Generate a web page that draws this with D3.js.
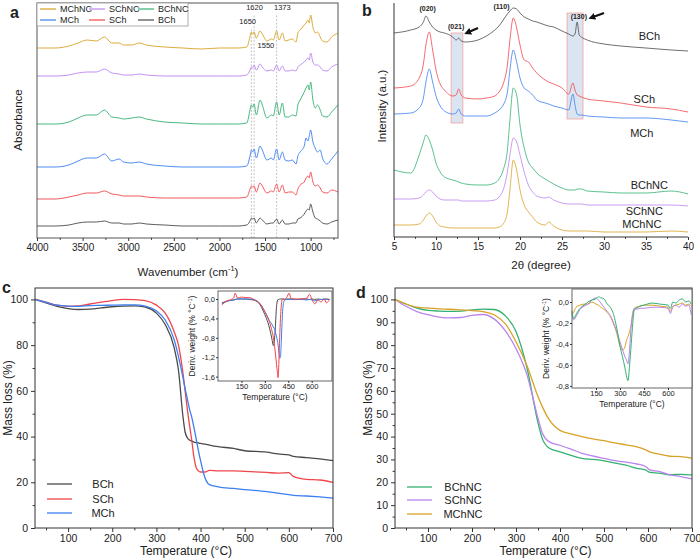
<!DOCTYPE html>
<html>
<head>
<meta charset="utf-8">
<script src="https://cdn.jsdelivr.net/npm/d3@7/dist/d3.min.js"></script>
<style>
  body { margin: 0; background: #fff; }
  svg text { font-family: "Liberation Sans", Arial, sans-serif; fill: #222; }
</style>
</head>
<body>
<svg id="fig" width="700" height="560"></svg>
<script>
// ---------- panel a: FTIR (stacked, arbitrary offsets) ----------
const ftirWave = [4000, 3800, 3650, 3550, 3450, 3350, 3260, 3180, 3100, 3050, 2960, 2880, 2800, 2600, 2400, 2200, 2000, 1800, 1700, 1660,
  1650, 1635, 1620, 1595, 1555, 1530, 1480, 1430, 1410, 1373, 1345, 1310, 1280, 1240, 1200, 1160, 1140, 1115, 1070, 1050,
  1030, 1015, 1000, 975, 950, 925, 895, 870, 820, 770, 700];
const ftirMChNC = [190, 190, 192, 195, 198, 197, 201, 195, 195, 193, 193, 195, 193, 191, 190, 189, 190, 190, 191, 203,
  206, 204, 206, 200, 207, 204, 197, 199, 198, 207, 198, 205, 197, 198, 199, 196, 205, 208, 213, 215,
  218, 215, 223, 211, 205, 206, 201, 197, 196, 201, 205];
const ftirSChNC = [162, 162, 163, 165, 166, 166, 169, 165, 164, 163, 163, 164, 163, 162, 162, 162, 162, 162, 163, 169,
  171, 170, 173, 168, 174, 171, 167, 168, 167, 173, 167, 172, 167, 167, 168, 167, 171, 173, 176, 178,
  180, 178, 185, 176, 173, 173, 171, 168, 167, 171, 174];
const ftirBChNC = [114, 114, 116, 120, 123, 123, 128, 121, 120, 119, 120, 121, 119, 116, 115, 114, 114, 114, 115, 130,
  133, 131, 134, 123, 138, 133, 120, 123, 122, 136, 123, 135, 121, 121, 123, 122, 133, 138, 146, 150,
  153, 148, 156, 138, 130, 133, 128, 122, 121, 126, 133];
const ftirMCh = [71, 71, 73, 77, 80, 80, 84, 77, 79, 76, 75, 76, 74, 72, 71, 71, 71, 71, 72, 84,
  88, 86, 89, 80, 92, 88, 78, 80, 78, 89, 78, 86, 78, 77, 78, 74, 82, 86, 92, 100,
  97, 102, 108, 96, 90, 86, 88, 80, 74, 79, 87];
const ftirSCh = [39, 39, 41, 43, 45, 45, 47, 44, 43, 42, 42, 42, 41, 40, 40, 40, 40, 40, 41, 50,
  52, 51, 52, 46, 55, 52, 45, 47, 46, 54, 46, 53, 45, 46, 46, 43, 49, 53, 56, 60,
  62, 60, 66, 56, 52, 53, 50, 46, 45, 48, 46];
const ftirBCh = [12, 12, 13, 15, 16, 16, 17, 15, 15, 14, 14, 15, 14, 13, 12, 12, 12, 12, 13, 18,
  20, 19, 20, 15, 20, 18, 14, 15, 15, 19, 14, 18, 14, 14, 15, 15, 19, 20, 24, 27,
  29, 28, 34, 26, 20, 19, 17, 15, 14, 16, 18];
const ftirMarks = [1650, 1620, 1373];
const ftirMarkLabels = [["1650", 1690, 24], ["1620", 1615, 10], ["1373", 1310, 10], ["1550", 1490, 48]];
const waveTicks = [4000, 3500, 3000, 2500, 2000, 1500, 1000];

// ---------- panel b: XRD (stacked) ----------
const xrdTheta = [5, 7, 8, 8.5, 8.8, 9.2, 9.6, 10, 10.5, 11, 12, 12.4, 12.7, 13, 13.5, 15, 16, 17, 17.5, 18,
  18.5, 18.8, 19.2, 19.6, 20, 20.5, 21, 21.5, 22, 23, 23.4, 24, 25, 25.8, 26.3, 26.55, 26.8, 27.05, 27.3, 28,
  30, 32, 35, 38, 40];
const xrdBCh = [204, 207, 210, 215, 221, 215, 210, 207, 205, 204, 200, 197, 199, 196, 195, 197, 201, 207, 211, 217,
  223, 226, 229, 228, 224, 220, 218, 216, 215, 212, 211, 210, 206, 203, 201, 203, 215, 202, 200, 197,
  193, 191, 189, 187, 186];
const xrdSCh = [149, 151, 159, 173, 192, 205, 187, 167, 153, 147, 141, 142, 148, 142, 139, 138, 139, 141, 145, 153,
  172, 197, 219, 209, 192, 177, 175, 169, 164, 157, 155, 153, 149, 143, 154, 147, 142, 141, 140, 138,
  136, 134, 130, 128, 125];
const xrdMCh = [123, 124, 129, 139, 155, 168, 155, 141, 131, 126, 123, 124, 128, 123, 121, 121, 121, 124, 127, 132,
  145, 167, 187, 175, 159, 149, 146, 142, 137, 134, 133, 131, 129, 127, 143, 132, 123, 122, 122, 121,
  120, 119, 119, 117, 115];
const xrdBChNC = [67, 64, 82, 95, 102, 97, 87, 74, 65, 60, 57, 56, 55, 54, 53, 52, 52, 54, 58, 67,
  87, 117, 149, 142, 112, 89, 75, 69, 64, 58, 56, 53, 49, 47, 47, 47, 48, 48, 48, 46,
  45, 44, 44, 46, 43];
const xrdSChNC = [38, 38, 39, 42, 45, 47, 45, 41, 38, 37, 37, 37, 37, 36, 36, 36, 36, 37, 40, 47,
  65, 82, 99, 95, 82, 65, 52, 45, 41, 39, 40, 37, 34, 33, 33, 33, 33, 33, 33, 32,
  32, 32, 32, 32, 31];
const xrdMChNC = [12, 12, 13, 17, 21, 24, 21, 15, 11, 10, 9, 9, 9, 9, 9, 9, 9, 9, 10, 13,
  25, 47, 77, 67, 47, 32, 25, 20, 15, 12, 15, 11, 7, 6, 6, 6, 6, 6, 6, 6,
  5, 5, 5, 6, 5];
const xrdBands = [[11.8, 13.2, 114, 204], [25.6, 27.5, 118, 224]];
const xrdPeakLabels = [["(020)", 9.0, 226], ["(021)", 12.4, 208], ["(110)", 17.8, 228], ["(130)", 27.0, 218.5]];
const xrdNames = [["BCh", 35.4, 197], ["SCh", 34.8, 134], ["MCh", 34.5, 100], ["BChNC", 35.4, 48], ["SChNC", 34.8, 22], ["MChNC", 34.5, 9]];
const thetaTicks = [5, 10, 15, 20, 25, 30, 35, 40];

// ---------- panel c: TGA of chitins ----------
const tgaTempC = [25, 50, 75, 100, 125, 150, 175, 200, 225, 250, 275, 300, 320, 340, 350, 360, 365, 370, 375, 380,
  385, 390, 395, 400, 410, 420, 440, 475, 500, 550, 575, 600, 610, 640, 670, 700];
const tgaBCh = [100, 98.5, 97, 96, 95.6, 95.8, 96.3, 96.8, 97.1, 97.2, 96.6, 94, 89, 79, 69, 49, 42, 39.5, 38.5, 38,
  37.6, 37.4, 37.2, 37, 36.7, 36.3, 35.6, 34.8, 33.8, 33.2, 32.4, 32, 31.3, 30.8, 30.2, 29.5];
const tgaSCh = [100, 98.8, 97.5, 97, 97.2, 98, 98.8, 99.5, 100, 99.9, 99.5, 97.5, 94, 86, 80, 68, 60, 52, 45, 38.5,
  31, 26.5, 25, 24.5, 24.5, 25.2, 25, 25, 24.8, 24.3, 24, 24.2, 22.6, 21.3, 21, 20];
const tgaMCh = [100, 98.7, 97.5, 97.1, 97, 97.3, 97.4, 97.5, 97.6, 97.6, 97.1, 95, 91, 82.5, 75, 66, 61, 56.5, 52, 48.5,
  44, 39, 34, 29.5, 22, 19, 18, 17.3, 16.8, 15.9, 15.3, 14.6, 14.3, 14, 13.6, 13.1];
const dtgTempC = [25, 50, 75, 100, 110, 125, 150, 175, 200, 225, 250, 270, 290, 310, 330, 345, 355, 365, 375, 380,
  385, 390, 395, 400, 405, 410, 415, 425, 440, 455, 470, 500, 540, 570, 585, 603, 620, 640, 660, 680, 695, 715];
const dtgBCh = [-0.08, -0.05, -0.03, -0.02, -0.01, 0, 0, 0, -0.01, -0.02, -0.05, -0.12, -0.25, -0.4, -0.6, -0.82, -0.96, -0.7, -0.15, -0.04,
  -0.01, -0.01, 0, 0, 0, 0, 0, -0.01, 0, 0, 0, -0.01, 0, 0, -0.01, 0, -0.01, 0, -0.01, 0, 0, -0.01];
const dtgSCh = [-0.12, -0.05, -0.02, 0.02, 0.12, 0.02, 0.04, 0.03, 0.03, 0, -0.05, -0.1, -0.2, -0.32, -0.48, -0.65, -0.8, -1.05, -1.35, -1.5,
  -1.62, -1.3, -0.8, -0.4, -0.15, -0.02, 0, 0, 0.03, 0.12, 0, 0, 0, 0.02, 0.1, -0.02, -0.1, -0.02, -0.06, 0, -0.08, 0];
const dtgMCh = [-0.1, -0.06, -0.03, -0.02, -0.01, 0, 0, 0, 0, -0.01, -0.04, -0.1, -0.2, -0.32, -0.45, -0.52, -0.58, -0.65, -0.78, -0.85,
  -0.95, -1.1, -1.22, -1.2, -0.9, -0.5, -0.2, -0.03, -0.01, -0.01, -0.01, -0.01, -0.01, -0.02, -0.01, -0.02, -0.04, -0.02, -0.01, -0.01, -0.01, -0.01];

// ---------- panel d: TGA of nanocrystals ----------
const tgaTempD = [25, 50, 75, 100, 125, 150, 175, 200, 225, 250, 275, 300, 325, 350, 360, 375, 400, 425, 450, 475,
  500, 525, 550, 575, 595, 605, 625, 650, 675, 700];
const tgaBChNC = [100, 98, 96.2, 95.2, 94.9, 94.8, 94.9, 95.4, 95.8, 95.6, 93, 86, 70, 46, 39, 35, 33.3, 31.8, 30.5, 30,
  29.4, 28.4, 27.5, 26.1, 25.3, 24.3, 24, 23.3, 23.5, 23.2];
const tgaSChNC = [100, 97, 94.7, 93.3, 92.3, 91.9, 92.1, 93, 93.4, 91.5, 86.5, 78.5, 67, 48, 41.5, 37.8, 36.2, 34.5, 32.7, 31.5,
  30.5, 29.5, 28.8, 28, 26.8, 25.3, 24.8, 23.2, 22.5, 21.5];
const tgaMChNC = [100, 98, 96.6, 96.2, 95.9, 95.7, 95.4, 95.1, 94.7, 93.3, 89.5, 81.5, 71, 57.5, 53, 47.5, 42.7, 41.2, 40, 39,
  38.2, 37.2, 36.4, 35.5, 34.2, 33.2, 32.3, 31.4, 31.2, 30.6];
const dtgTempD = [0, 10, 25, 50, 75, 100, 125, 150, 165, 180, 200, 220, 240, 260, 280, 300, 315, 330, 340, 350,
  360, 370, 380, 390, 400, 425, 450, 500, 550, 600, 615, 630, 650, 670, 690, 710, 730, 745];
const dtgBChNC = [-0.08, -0.16, -0.12, -0.06, -0.03, 0, 0.02, 0.03, 0.05, 0.04, 0.03, -0.02, -0.05, -0.12, -0.25, -0.42, -0.52, -0.62, -0.7, -0.75,
  -0.6, -0.4, -0.2, -0.07, -0.06, -0.04, -0.03, -0.01, -0.02, -0.03, -0.06, 0, -0.01, 0.02, 0.03, 0, 0.01, -0.02];
const dtgSChNC = [-0.1, -0.17, -0.14, -0.07, -0.04, -0.02, 0.02, 0.04, 0.02, -0.01, -0.05, -0.09, -0.13, -0.2, -0.28, -0.38, -0.45, -0.52, -0.55, -0.59,
  -0.45, -0.22, -0.1, -0.06, -0.07, -0.06, -0.06, -0.05, -0.05, -0.06, -0.11, -0.05, -0.03, -0.05, -0.02, -0.04, -0.03, -0.12];
const dtgMChNC = [-0.12, -0.1, -0.05, -0.03, -0.02, -0.02, 0, -0.02, -0.03, -0.05, -0.07, -0.1, -0.14, -0.21, -0.3, -0.42, -0.46, -0.43, -0.37, -0.33,
  -0.28, -0.22, -0.12, -0.06, -0.05, -0.04, -0.03, -0.03, -0.04, -0.05, -0.09, -0.04, -0.03, -0.02, -0.01, -0.03, -0.02, -0.04];

const tempTicks = [100, 200, 300, 400, 500, 600, 700];
const insetTicks = [150, 300, 450, 600];

const colors = {
  BCh: '#4a4a4a', SCh: '#f0464b', MCh: '#3b7ff0',
  BChNC: '#33b172', SChNC: '#bb84ee', MChNC: '#d9a227'
};

const svg = d3.select('#fig');
const line = (x, y) => d3.line().x(d => x(d[0])).y(d => y(d[1])).curve(d3.curveMonotoneX);

function drawSeries(g, x, y, xs, list, width) {
  list.forEach(([name, vals]) => {
    g.append('path')
      .datum(d3.zip(xs, vals))
      .attr('fill', 'none')
      .attr('stroke', colors[name])
      .attr('stroke-width', width)
      .attr('stroke-linejoin', 'round')
      .attr('d', line(x, y));
  });
}

function frame(g, x, y, stroke) {
  const [x0, x1] = x.range(), [y0, y1] = y.range();
  g.append('rect')
    .attr('x', Math.min(x0, x1)).attr('y', Math.min(y0, y1))
    .attr('width', Math.abs(x1 - x0)).attr('height', Math.abs(y1 - y0))
    .attr('fill', 'none').attr('stroke', stroke || '#333').attr('stroke-width', 1);
}

// axis with major + minor ticks, no domain line
function bottomAxis(g, x, y0, major, minor, size, fs, pad, fmt) {
  const ax = g.append('g').attr('transform', `translate(0,${y0})`)
    .call(d3.axisBottom(x).tickValues(major).tickSize(size).tickPadding(pad).tickSizeOuter(0).tickFormat(fmt || d3.format('d')));
  ax.select('.domain').remove();
  ax.selectAll('text').attr('font-size', fs).attr('dy', '0.7em');
  if (minor) {
    const m = g.append('g').attr('transform', `translate(0,${y0})`)
      .call(d3.axisBottom(x).tickValues(minor).tickSize(size * 0.6).tickFormat(''));
    m.select('.domain').remove();
  }
  g.selectAll('.tick line').attr('stroke', '#333');
}

function leftAxis(g, y, x0, major, minor, size, fs, pad, fmt) {
  const ax = g.append('g').attr('transform', `translate(${x0},0)`)
    .call(d3.axisLeft(y).tickValues(major).tickSize(size).tickPadding(pad).tickSizeOuter(0).tickFormat(fmt || d3.format('d')));
  ax.select('.domain').remove();
  ax.selectAll('text').attr('font-size', fs);
  if (minor) {
    const m = g.append('g').attr('transform', `translate(${x0},0)`)
      .call(d3.axisLeft(y).tickValues(minor).tickSize(size * 0.6).tickFormat(''));
    m.select('.domain').remove();
  }
  g.selectAll('.tick line').attr('stroke', '#333');
}

function superTitle(g, x, y, before, sup, after, fs, rotate) {
  const t = g.append('text').attr('text-anchor', 'middle').attr('font-size', fs);
  if (rotate) t.attr('transform', `translate(${x},${y}) rotate(-90)`);
  else t.attr('x', x).attr('y', y);
  t.append('tspan').text(before);
  t.append('tspan').attr('dy', -fs * 0.4).attr('font-size', fs * 0.65).text(sup);
  t.append('tspan').attr('dy', fs * 0.4).text(after);
}

function panelLetter(x, y, s) {
  svg.append('text').attr('x', x).attr('y', y).attr('font-size', 16).attr('font-weight', 'bold').text(s);
}

const commaFmt = d => d3.format('.1f')(d).replace('.', ',').replace('\u2212', '-');

// ================= panel a =================
{
  const g = svg.append('g');
  const x = d3.scaleLinear().domain([4000, 700]).range([37, 338]);
  const y = d3.scaleLinear().domain([0, 235]).range([238, 3]);

  // marker lines
  ftirMarks.forEach((w, i) => {
    g.append('line')
      .attr('x1', x(w)).attr('x2', x(w))
      .attr('y1', y(0)).attr('y2', i === 0 ? 28 : 14)
      .attr('stroke', '#aaa').attr('stroke-width', 0.7).attr('stroke-dasharray', '2,1.5');
  });

  drawSeries(g, x, y, ftirWave, [
    ['BCh', ftirBCh], ['SCh', ftirSCh], ['MCh', ftirMCh],
    ['BChNC', ftirBChNC], ['SChNC', ftirSChNC], ['MChNC', ftirMChNC]
  ], 0.9);

  ftirMarkLabels.forEach(([t, w, yy]) => {
    g.append('text').attr('x', x(w)).attr('y', yy).attr('text-anchor', 'middle')
      .attr('font-size', 7.5).attr('fill', '#333').text(t);
  });

  frame(g, x, y, '#555');
  bottomAxis(g, x, 238, waveTicks, d3.range(3750, 700, -500), 3, 10, 3);

  // legend box
  g.append('rect').attr('x', 37).attr('y', 3).attr('width', 151).attr('height', 23)
    .attr('fill', '#fff').attr('stroke', '#999').attr('stroke-width', 0.8);
  const leg = [['MChNC', 0, 0], ['SChNC', 1, 0], ['BChNC', 2, 0], ['MCh', 0, 1], ['SCh', 1, 1], ['BCh', 2, 1]];
  const colX = [40, 89, 138], rowY = [9, 20];
  leg.forEach(([n, c, r]) => {
    g.append('line').attr('x1', colX[c]).attr('x2', colX[c] + 16).attr('y1', rowY[r]).attr('y2', rowY[r])
      .attr('stroke', colors[n]).attr('stroke-width', 1.2);
    g.append('text').attr('x', colX[c] + 20).attr('y', rowY[r] + 3.3).attr('font-size', 9).text(n);
  });

  g.append('text').attr('transform', 'translate(22,120) rotate(-90)').attr('text-anchor', 'middle')
    .attr('font-size', 11.5).text('Absorbance');
  superTitle(g, 188, 276, 'Wavenumber (cm', '-1', ')', 11.5, false);
  panelLetter(10, 18, 'a');
}

// ================= panel b =================
{
  const g = svg.append('g');
  const x = d3.scaleLinear().domain([5, 40]).range([394, 688]);
  const y = d3.scaleLinear().domain([0, 234]).range([237, 3]);

  xrdBands.forEach(([a, b, lo, hi]) => {
    g.append('rect').attr('x', x(a)).attr('y', y(hi))
      .attr('width', x(b) - x(a)).attr('height', y(lo) - y(hi))
      .attr('fill', '#dbe5f1').attr('stroke', '#f3a0a0').attr('stroke-width', 0.8);
  });

  drawSeries(g, x, y, xrdTheta, [
    ['BCh', xrdBCh], ['SCh', xrdSCh], ['MCh', xrdMCh],
    ['BChNC', xrdBChNC], ['SChNC', xrdSChNC], ['MChNC', xrdMChNC]
  ], 0.8);

  xrdPeakLabels.forEach(([t, th, v]) => {
    g.append('text').attr('x', x(th)).attr('y', y(v)).attr('text-anchor', 'middle')
      .attr('font-size', 7).attr('font-weight', 'bold').text(t);
  });
  xrdNames.forEach(([t, th, v]) => {
    g.append('text').attr('x', x(th)).attr('y', y(v)).attr('text-anchor', 'middle')
      .attr('font-size', 11).text(t);
  });

  // arrows
  svg.append('defs').append('marker').attr('id', 'ah')
    .attr('viewBox', '0 0 10 10').attr('refX', 3).attr('refY', 5)
    .attr('markerWidth', 3.2).attr('markerHeight', 3.2).attr('orient', 'auto')
    .append('path').attr('d', 'M0,0L10,5L0,10z').attr('fill', '#111');
  [[15.0, 209, 13.9, 205], [30.0, 224, 28.7, 220]].forEach(([a, b, c, d]) => {
    g.append('line').attr('x1', x(a)).attr('y1', y(b)).attr('x2', x(c)).attr('y2', y(d))
      .attr('stroke', '#111').attr('stroke-width', 2.2).attr('marker-end', 'url(#ah)');
  });

  g.append('line').attr('x1', 394).attr('x2', 394).attr('y1', 3).attr('y2', 237).attr('stroke', '#333');
  g.append('line').attr('x1', 394).attr('x2', 688).attr('y1', 237).attr('y2', 237).attr('stroke', '#333');
  bottomAxis(g, x, 237, thetaTicks, d3.range(7.5, 40, 5), 3, 10, 3);

  g.append('text').attr('transform', 'translate(386,106) rotate(-90)').attr('text-anchor', 'middle')
    .attr('font-size', 11.5).text('Intensity (a.u.)');
  g.append('text').attr('x', 541).attr('y', 269).attr('text-anchor', 'middle')
    .attr('font-size', 11.5).text('2θ (degree)');
  panelLetter(362, 16, 'b');
}

// ================= panel c & d =================
function tgaPanel(opt) {
  const g = svg.append('g');
  const x = d3.scaleLinear().domain([25, 700]).range(opt.xr);
  const y = d3.scaleLinear().domain([0, 105]).range([528, 288]);

  drawSeries(g, x, y, opt.temp, opt.series, 1.3);
  frame(g, x, y);
  bottomAxis(g, x, 528, tempTicks, d3.range(50, 700, 100), 4, 10.5, 3);
  leftAxis(g, y, opt.xr[0], opt.yMajor, opt.yMinor, 4, 10.5, 3);

  // legend
  opt.series.forEach(([n], i) => {
    const yy = opt.legY[i];
    g.append('line').attr('x1', opt.legX).attr('x2', opt.legX + 25).attr('y1', yy).attr('y2', yy)
      .attr('stroke', colors[n]).attr('stroke-width', 1.3);
    g.append('text').attr('x', opt.legX + 56).attr('y', yy + 4).attr('text-anchor', 'middle')
      .attr('font-size', 11).text(n);
  });

  g.append('text').attr('transform', `translate(${opt.xr[0] - 23},398) rotate(-90)`).attr('text-anchor', 'middle')
    .attr('font-size', 12).text('Mass loss (%)');
  g.append('text').attr('x', (opt.xr[0] + opt.xr[1]) / 2 + 2).attr('y', 555).attr('text-anchor', 'middle')
    .attr('font-size', 12).text('Temperature (°C)');

  // inset
  const ix = d3.scaleLinear().domain(opt.inX).range(opt.inXr);
  const iy = d3.scaleLinear().domain(opt.inY).range(opt.inYr);
  g.append('rect').attr('x', opt.inXr[0]).attr('y', opt.inYr[1])
    .attr('width', opt.inXr[1] - opt.inXr[0]).attr('height', opt.inYr[0] - opt.inYr[1]).attr('fill', '#fff');
  drawSeries(g, ix, iy, opt.dtgTemp, opt.dtg, 1);
  frame(g, ix, iy, '#666');
  bottomAxis(g, ix, opt.inYr[0], insetTicks, null, 2, 7.5, 1);
  leftAxis(g, iy, opt.inXr[0], opt.inTicks, null, 2, 7.5, 1, commaFmt);
  superTitle(g, opt.inXr[0] - 23, (opt.inYr[0] + opt.inYr[1]) / 2, 'Deriv. weight (% °C', '-1', ')', 8.5, true);
  g.append('text').attr('x', (opt.inXr[0] + opt.inXr[1]) / 2).attr('y', opt.inYr[0] + 18.5)
    .attr('text-anchor', 'middle').attr('font-size', 8.5).text('Temperature (°C)');
}

tgaPanel({
  xr: [35, 333], temp: tgaTempC,
  series: [['BCh', tgaBCh], ['SCh', tgaSCh], ['MCh', tgaMCh]],
  yMajor: [0, 20, 40, 60, 80, 100], yMinor: [10, 30, 50, 70, 90],
  legX: 47, legY: [484, 499, 513],
  inX: [0, 730], inXr: [218, 332], inY: [-1.69, 0.165], inYr: [381, 291],
  inTicks: [0, -0.4, -0.8, -1.2, -1.6], dtgTemp: dtgTempC,
  dtg: [['BCh', dtgBCh], ['MCh', dtgMCh], ['SCh', dtgSCh]]
});
colors.BCh = '#3a3a3a';
tgaPanel({
  xr: [395, 692], temp: tgaTempD,
  series: [['BChNC', tgaBChNC], ['SChNC', tgaSChNC], ['MChNC', tgaMChNC]],
  yMajor: d3.range(0, 101, 10), yMinor: d3.range(5, 101, 10),
  legX: 407, legY: [487, 500, 514],
  inX: [0, 750], inXr: [572, 692], inY: [-0.82, 0.124], inYr: [388, 289],
  inTicks: [0, -0.2, -0.4, -0.6, -0.8], dtgTemp: dtgTempD,
  dtg: [['MChNC', dtgMChNC], ['SChNC', dtgSChNC], ['BChNC', dtgBChNC]]
});
panelLetter(2, 293, 'c');
panelLetter(356, 298, 'd');
</script>
</body>
</html>
